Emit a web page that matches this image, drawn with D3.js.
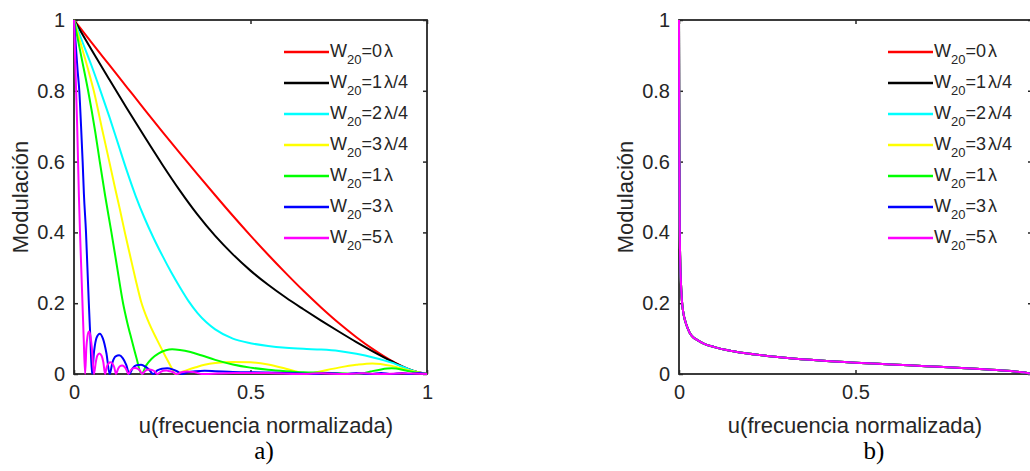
<!DOCTYPE html>
<html>
<head>
<meta charset="utf-8">
<script src="https://cdn.jsdelivr.net/npm/d3@7"></script>
<style>
  body { margin: 0; background: #fff; }
  svg { display: block; }
  text { font-family: "Liberation Sans", Arial, Helvetica, sans-serif; fill: #262626; }
</style>
</head>
<body>
<svg id="chart" width="1030" height="471"></svg>
<script>
// ---- data: modulation transfer curves, [u, M] pairs ----
const mtfW0 = [[0,1],[0.05,0.936],[0.1,0.873],[0.15,0.810],[0.2,0.747],[0.25,0.685],[0.3,0.624],[0.35,0.564],[0.4,0.505],[0.45,0.447],[0.5,0.391],[0.55,0.337],[0.6,0.285],[0.65,0.235],[0.7,0.188],[0.75,0.144],[0.8,0.104],[0.85,0.068],[0.9,0.037],[0.95,0.013],[0.975,0.0047],[1,0]];
const mtfW1 = [[0,1],[0.05,0.915],[0.1,0.832],[0.15,0.750],[0.2,0.670],[0.25,0.592],[0.3,0.518],[0.35,0.450],[0.4,0.390],[0.45,0.338],[0.5,0.292],[0.55,0.252],[0.6,0.216],[0.65,0.183],[0.7,0.151],[0.75,0.12],[0.8,0.09],[0.85,0.062],[0.9,0.036],[0.95,0.013],[0.975,0.0047],[1,0]];
const mtfW2 = [[0,1],[0.025,0.935],[0.05,0.87],[0.075,0.80],[0.1,0.727],[0.125,0.65],[0.15,0.573],[0.175,0.502],[0.2,0.44],[0.225,0.385],[0.25,0.335],[0.275,0.288],[0.3,0.245],[0.325,0.205],[0.35,0.172],[0.375,0.146],[0.4,0.126],[0.45,0.10],[0.5,0.087],[0.55,0.079],[0.6,0.074],[0.65,0.071],[0.7,0.069],[0.75,0.065],[0.8,0.057],[0.85,0.046],[0.9,0.032],[0.95,0.013],[0.975,0.0047],[1,0]];
const mtfW3 = [[0,1],[0.02,0.93],[0.04,0.86],[0.056,0.80],[0.08,0.69],[0.1,0.60],[0.116,0.527],[0.13,0.465],[0.144,0.40],[0.16,0.33],[0.175,0.265],[0.19,0.205],[0.21,0.15],[0.235,0.097],[0.26,0.048],[0.275,0.02],[0.287,0],[0.3,0.004],[0.32,0.011],[0.345,0.019],[0.37,0.026],[0.4,0.031],[0.45,0.034],[0.5,0.033],[0.55,0.027],[0.6,0.015],[0.63,0.007],[0.66,0],[0.7,0.008],[0.75,0.018],[0.8,0.026],[0.845,0.030],[0.9,0.023],[0.95,0.01],[1,0]];
const mtfW4 = [[0,1],[0.02,0.90],[0.04,0.80],[0.06,0.685],[0.073,0.60],[0.088,0.505],[0.106,0.40],[0.12,0.315],[0.139,0.20],[0.151,0.145],[0.163,0.098],[0.177,0.045],[0.191,0],[0.205,0.025],[0.22,0.043],[0.24,0.058],[0.26,0.067],[0.278,0.07],[0.3,0.068],[0.33,0.062],[0.36,0.053],[0.4,0.04],[0.45,0.027],[0.5,0.018],[0.55,0.012],[0.6,0.008],[0.65,0.005],[0.7,0.0035],[0.75,0.002],[0.81,0],[0.84,0.007],[0.87,0.013],[0.9,0.016],[0.94,0.01],[0.97,0.004],[1,0]];
const mtfW5 = [[0,1],[0.005,0.93],[0.01,0.86],[0.015,0.80],[0.02,0.70],[0.0245,0.60],[0.028,0.51],[0.034,0.40],[0.038,0.30],[0.042,0.20],[0.046,0.11],[0.051,0],
  [0.057,0.065],[0.064,0.103],[0.073,0.114],[0.082,0.100],[0.092,0.058],[0.101,0],
  [0.109,0.033],[0.118,0.050],[0.128,0.053],[0.138,0.045],[0.148,0.026],[0.157,0],
  [0.166,0.016],[0.177,0.025],[0.19,0.026],[0.202,0.021],[0.213,0.012],[0.224,0],
  [0.236,0.010],[0.249,0.015],[0.264,0.016],[0.279,0.013],[0.293,0.007],[0.306,0],
  [0.322,0.005],[0.345,0.008],[0.37,0.009],[0.4,0.008],[0.45,0.006],[0.5,0.005],[0.55,0.004],[0.62,0.002],[0.68,0],
  [0.72,0.003],[0.77,0],[0.8,0.003],[0.84,0],[0.87,0.003],[0.9,0],[0.93,0.003],[0.95,0],[0.975,0.003],[1,0]];
const mtfW6 = [[0,1],[0.003,0.90],[0.006,0.80],[0.009,0.70],[0.0115,0.60],[0.014,0.50],[0.017,0.40],[0.0205,0.30],[0.024,0.20],[0.0275,0.10],[0.0315,0],
  [0.035,0.075],[0.038,0.105],[0.042,0.12],[0.046,0.11],[0.0505,0.075],[0.0565,0],
  [0.062,0.035],[0.066,0.052],[0.072,0.058],[0.078,0.052],[0.083,0.034],[0.088,0],
  [0.093,0.021],[0.098,0.030],[0.103,0.033],[0.109,0.029],[0.114,0.019],[0.119,0],
  [0.125,0.015],[0.13,0.022],[0.136,0.024],[0.142,0.021],[0.148,0.013],[0.154,0],
  [0.161,0.011],[0.167,0.016],[0.173,0.017],[0.18,0.015],[0.187,0.009],[0.193,0],
  [0.201,0.008],[0.207,0.012],[0.214,0.013],[0.222,0.011],[0.229,0.007],[0.236,0],
  [0.246,0.006],[0.253,0.009],[0.262,0.010],[0.271,0.008],[0.281,0.005],[0.29,0],
  [0.305,0.005],[0.32,0.007],[0.335,0.006],[0.35,0.003],[0.362,0],
  [0.45,0.003],[0.55,0.003],[0.637,0],[0.7,0.002],[0.76,0],[0.82,0.002],[0.87,0],[0.93,0.002],[1,0]];

// panel b: all seven cases collapse onto the same curve
const mtfB = [[0,1],[0.0005,0.78],[0.001,0.62],[0.002,0.42],[0.003,0.34],[0.005,0.27],[0.008,0.21],[0.012,0.175],[0.018,0.148],[0.025,0.128],[0.031,0.115],[0.04,0.104],[0.05,0.097],[0.07,0.086],[0.1,0.076],[0.15,0.065],[0.2,0.057],[0.25,0.051],[0.3,0.046],[0.4,0.038],[0.5,0.032],[0.6,0.027],[0.7,0.022],[0.8,0.017],[0.9,0.011],[0.95,0.007],[0.98,0.004],[1,0]];

const legendCoef = ["0", "1", "2", "3", "1", "3", "5"];
const legendTail = ["", "/4", "/4", "/4", "", "", ""];
const colors = ["#ff0000", "#000000", "#00ffff", "#ffff00", "#00ff00", "#0000ff", "#ff00ff"];
const xTicks = [0, 0.5, 1];
const yTicks = [0, 0.2, 0.4, 0.6, 0.8, 1];

const curvesA = [mtfW0, mtfW1, mtfW2, mtfW3, mtfW4, mtfW5, mtfW6];
const curvesB = colors.map(() => mtfB);

// ---- layout ----
const W = 1030, H = 471;
const plotTop = 20, plotBottom = 374, plotSize = 353;
const axisColor = "#262626";

const panels = [
  { left: 74,  curves: curvesA, tag: "a)", tagX: 264, xLabelX: 266, legendX: 284 },
  { left: 679, curves: curvesB, tag: "b)", tagX: 874, xLabelX: 855, legendX: 888 }
];

const svg = d3.select("#chart");

panels.forEach(p => {
  const x = d3.scaleLinear().domain([0, 1]).range([p.left, p.left + plotSize]);
  const y = d3.scaleLinear().domain([0, 1]).range([plotBottom, plotTop]);
  const g = svg.append("g");

  // inward ticks on all four sides
  const fmt = d => String(d);
  const visibleX = xTicks.filter(d => x(d) + 6 <= W);
  const bottom = g.append("g").attr("transform", `translate(0,${plotBottom})`)
    .call(d3.axisBottom(x).tickValues(xTicks).tickSize(-4).tickPadding(11)
      .tickFormat(d => visibleX.includes(d) ? fmt(d) : ""));
  const top = g.append("g").attr("transform", `translate(0,${plotTop})`)
    .call(d3.axisTop(x).tickValues(xTicks).tickSize(-4).tickFormat(""));
  const leftAx = g.append("g").attr("transform", `translate(${p.left},0)`)
    .call(d3.axisLeft(y).tickValues(yTicks).tickSize(-4).tickPadding(9).tickFormat(fmt));
  const rightAx = g.append("g").attr("transform", `translate(${p.left + plotSize},0)`)
    .call(d3.axisRight(y).tickValues(yTicks).tickSize(-4).tickFormat(""));

  [bottom, top, leftAx, rightAx].forEach(a => {
    a.select(".domain").remove();
    a.selectAll(".tick line").attr("stroke", axisColor).attr("stroke-width", 1.5);
    a.selectAll(".tick text").attr("fill", axisColor)
      .style("font-size", "20px").style("font-family", '"Liberation Sans", Arial, sans-serif');
  });
  bottom.selectAll(".tick text").attr("dy", "0.71em").attr("y", 11);

  // axes box
  g.append("rect")
    .attr("x", p.left).attr("y", plotTop)
    .attr("width", plotSize).attr("height", plotBottom - plotTop)
    .attr("fill", "none").attr("stroke", axisColor).attr("stroke-width", 1.8);

  // curves
  const line = d3.line().x(d => x(d[0])).y(d => y(d[1])).curve(d3.curveMonotoneX);
  p.curves.forEach((c, i) => {
    g.append("path").datum(c)
      .attr("d", line)
      .attr("fill", "none")
      .attr("stroke", colors[i])
      .attr("stroke-width", 2)
      .attr("stroke-linejoin", "round");
  });

  // legend
  const rowY = d3.range(colors.length).map(i => 52 + i * 31);
  colors.forEach((col, i) => {
    g.append("line")
      .attr("x1", p.legendX).attr("x2", p.legendX + 45)
      .attr("y1", rowY[i]).attr("y2", rowY[i])
      .attr("stroke", col).attr("stroke-width", 2.5);
    const t = g.append("text")
      .attr("x", p.legendX + 46).attr("y", rowY[i] + 5)
      .style("font-size", "18px");
    t.append("tspan").text("W");
    t.append("tspan").attr("dy", 6.5).style("font-size", "13px").text("20");
    t.append("tspan").attr("dy", -6.5).text("=" + legendCoef[i]);
    t.append("tspan").attr("dx", 2).text("λ");
    if (legendTail[i]) t.append("tspan").text(legendTail[i]);
  });

  // axis titles
  g.append("text")
    .attr("x", p.xLabelX).attr("y", 433)
    .attr("text-anchor", "middle")
    .style("font-size", "22px")
    .text("u(frecuencia normalizada)");
  g.append("text")
    .attr("transform", `translate(${p.left - 46},${(plotTop + plotBottom) / 2}) rotate(-90)`)
    .attr("text-anchor", "middle")
    .style("font-size", "22px")
    .text("Modulación");

  // panel tag
  g.append("text")
    .attr("x", p.tagX).attr("y", 459)
    .attr("text-anchor", "middle")
    .style("font-family", '"Liberation Serif", "Times New Roman", serif')
    .style("font-size", "25px")
    .style("fill", "#000")
    .text(p.tag);
});
</script>
</body>
</html>
